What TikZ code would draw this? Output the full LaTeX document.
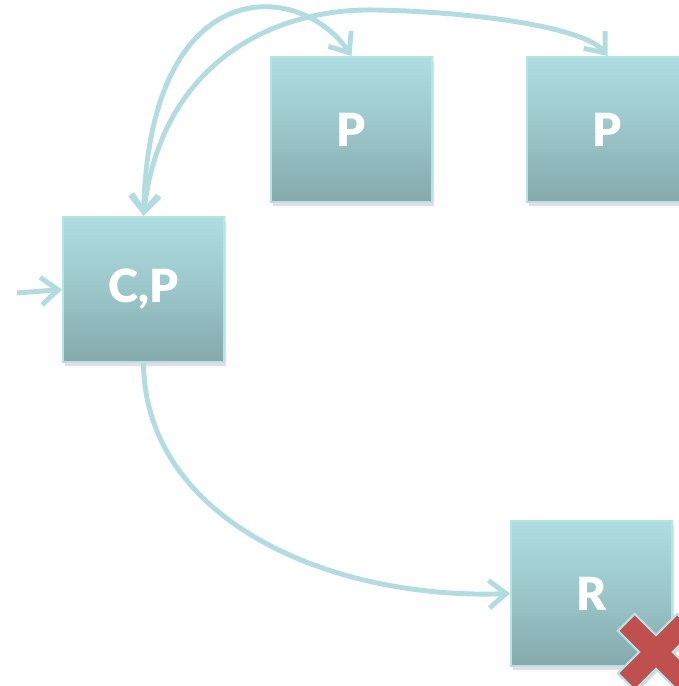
\documentclass[tikz,border=0pt]{standalone}
\usepackage{fontspec}
\newfontfamily\boxfont[BoldFont={Lato Black}]{Lato}
\usetikzlibrary{arrows.meta,shadows}
\definecolor{boxtop}{HTML}{AEDEE2}
\definecolor{boxbot}{HTML}{84A9AC}
\definecolor{boxrim}{HTML}{B8E2E6}
\definecolor{linkcol}{HTML}{B3DCE0}
\definecolor{crossred}{HTML}{C0504D}
\tikzset{
    procbox/.style={draw=boxrim, line width=1.2pt, top color=boxtop, bottom color=boxbot,
        middle color=boxtop!55!boxbot,
        minimum width=3.22cm, minimum height=2.9cm, inner sep=0pt,
        text=white, font=\boxfont\bfseries\fontsize{26}{26}\selectfont,
        drop shadow={shadow xshift=1pt, shadow yshift=-2.5pt, opacity=0.12, fill=black}},
    link/.style={draw=linkcol, line width=2.8pt,
        -{Straight Barb[length=0.34cm, width=0.55cm, line width=2.8pt]}},
    twolink/.style={link,
        {Straight Barb[length=0.34cm, width=0.55cm, line width=2.8pt]}-{Straight Barb[length=0.34cm, width=0.55cm, line width=2.8pt]}},
}
\begin{document}
\begin{tikzpicture}[x=0.02cm, y=-0.02cm]
    \clip (0,0) rectangle (679,686);
    \fill[white] (0,0) rectangle (679,686);
    % boxes
    \node[procbox] (cp) at (143.5,289.5) {C,P};
    \node[procbox] (pa) at (351.5,129.5) {P};
    \node[procbox] (pb) at (607.5,129.5) {P};
    \node[procbox] (rr) at (591.5,593.5) {R};
    % input arrow
    \coordinate (in) at (17,293);
    \draw[link] (in) -- (cp.west);
    % C,P to R
    \draw[link] (cp.south) .. controls (145,520) and (330,600) .. (rr.west);
    % C,P <-> first P
    \draw[twolink] (cp.north) .. controls (150,-30) and (300,-20) .. (pa.north);
    % C,P <-> second P
    \coordinate (top) at (375,10);
    \draw[twolink] (cp.north) .. controls (160,70) and (265,8) .. (top)
        .. controls (480,12) and (585,28) .. (pb.north);
    % red cross
    \begin{scope}[shift={(656,652)}, rotate=45]
        \fill[black, opacity=0.15, shift={(1,3)}]
            (-12,-42) -- (12,-42) -- (12,-12) -- (42,-12) -- (42,12) -- (12,12)
            -- (12,42) -- (-12,42) -- (-12,12) -- (-42,12) -- (-42,-12) -- (-12,-12) -- cycle;
        \draw[boxrim, line width=1.2pt, fill=crossred]
            (-12,-42) -- (12,-42) -- (12,-12) -- (42,-12) -- (42,12) -- (12,12)
            -- (12,42) -- (-12,42) -- (-12,12) -- (-42,12) -- (-42,-12) -- (-12,-12) -- cycle;
    \end{scope}
\end{tikzpicture}
\end{document}
